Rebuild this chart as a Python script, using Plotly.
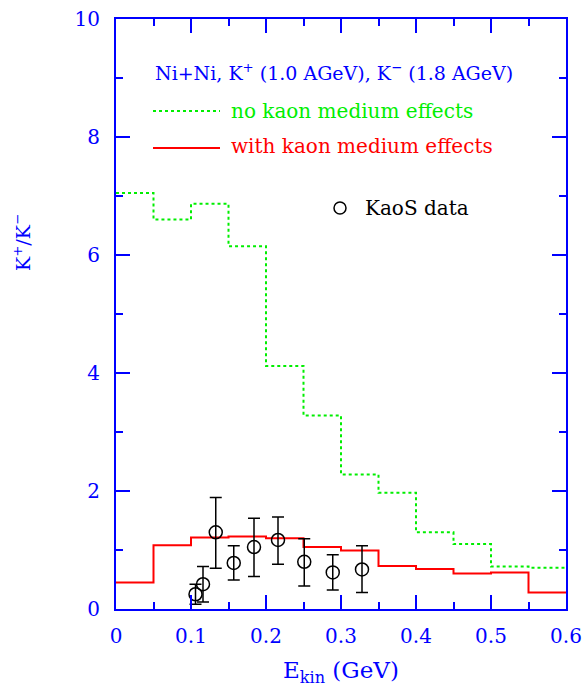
import plotly.graph_objects as go

# ---- data ----
bin_edges = [0.0, 0.05, 0.10, 0.15, 0.20, 0.25, 0.30, 0.35, 0.40, 0.45, 0.50, 0.55, 0.60]
no_medium = [7.05, 6.60, 6.87, 6.15, 4.12, 3.28, 2.28, 1.97, 1.30, 1.10, 0.72, 0.70]
with_medium = [0.45, 1.08, 1.21, 1.23, 1.20, 1.05, 0.99, 0.73, 0.68, 0.60, 0.62, 0.28]

kaos_x = [0.106, 0.116, 0.133, 0.157, 0.184, 0.216, 0.251, 0.289, 0.328]
kaos_y = [0.25, 0.42, 1.30, 0.78, 1.05, 1.17, 0.80, 0.62, 0.67]
kaos_hi = [0.42, 0.72, 1.89, 1.07, 1.54, 1.56, 1.19, 0.92, 1.07]
kaos_lo = [0.08, 0.12, 0.69, 0.49, 0.55, 0.76, 0.39, 0.32, 0.28]

x_ticks = [0, 0.1, 0.2, 0.3, 0.4, 0.5, 0.6]
x_ticklabels = ["0", "0.1", "0.2", "0.3", "0.4", "0.5", "0.6"]
y_ticks = [0, 2, 4, 6, 8, 10]

BLUE = "#0000ff"
GREEN = "#00ee00"
RED = "#ff0000"
FONT = "DejaVu Serif"

fig = go.Figure()

fig.add_trace(go.Scatter(
    x=bin_edges, y=no_medium + [no_medium[-1]], mode="lines", line_shape="hv",
    line=dict(color=GREEN, width=2, dash="dot"), showlegend=False))
fig.add_trace(go.Scatter(
    x=bin_edges, y=with_medium + [with_medium[-1]], mode="lines", line_shape="hv",
    line=dict(color=RED, width=2), showlegend=False))

err_plus = [h - y for h, y in zip(kaos_hi, kaos_y)]
err_minus = [y - l for l, y in zip(kaos_lo, kaos_y)]
fig.add_trace(go.Scatter(
    x=kaos_x, y=kaos_y, mode="markers",
    marker=dict(symbol="circle-open", size=13, color="black", line=dict(width=1.5, color="black")),
    error_y=dict(type="data", symmetric=False, array=err_plus, arrayminus=err_minus,
                 color="black", thickness=1.5, width=6),
    showlegend=False))

W, H = 586, 687
L, R, T, B = 116, 20, 19, 78
pw, ph = W - L - R, H - T - B

def px(xp):
    return (xp - L) / pw

def py(yp):
    return (H - B - yp) / ph

annotations = [
    dict(text="Ni+Ni, K<sup>+</sup> (1.0 AGeV), K<sup>−</sup> (1.8 AGeV)", x=px(153), y=py(72),
         xanchor="left", yanchor="middle", font=dict(color=BLUE, size=19)),
    dict(text="no kaon medium effects", x=px(229), y=py(111),
         xanchor="left", yanchor="middle", font=dict(color=GREEN, size=20)),
    dict(text="with kaon medium effects", x=px(229), y=py(146),
         xanchor="left", yanchor="middle", font=dict(color=RED, size=20)),
    dict(text="KaoS data", x=px(363), y=py(208),
         xanchor="left", yanchor="middle", font=dict(color="black", size=20)),
    dict(text="E<sub>kin</sub> (GeV)", x=0.5, y=py(672),
         xanchor="center", yanchor="middle", font=dict(color=BLUE, size=23)),
    dict(text="K<sup>+</sup>/K<sup>−</sup>", x=px(22), y=py(243), textangle=-90,
         xanchor="center", yanchor="middle", font=dict(color=BLUE, size=19)),
]
for a in annotations:
    a.update(xref="paper", yref="paper", showarrow=False)

shapes = [
    dict(type="line", xref="paper", yref="paper", x0=px(153), x1=px(220), y0=py(111), y1=py(111),
         line=dict(color=GREEN, width=2, dash="dot")),
    dict(type="line", xref="paper", yref="paper", x0=px(153), x1=px(220), y0=py(148), y1=py(148),
         line=dict(color=RED, width=2)),
    dict(type="circle", xref="paper", yref="paper", xsizemode="pixel", ysizemode="pixel",
         xanchor=px(340), yanchor=py(208), x0=-6, x1=6, y0=-6, y1=6,
         line=dict(color="black", width=1.5)),
]

axis_common = dict(showgrid=False, zeroline=False, showline=True, linecolor=BLUE, linewidth=2,
                   mirror="allticks", ticks="inside", ticklen=14, tickwidth=1.5, tickcolor=BLUE,
                   tickfont=dict(color=BLUE, size=20, family=FONT), automargin=False)

fig.update_layout(
    width=W, height=H, margin=dict(l=L, r=R, t=T, b=B, autoexpand=False),
    paper_bgcolor="white", plot_bgcolor="white",
    font=dict(family=FONT),
    xaxis=dict(range=[0, 0.6], tickvals=x_ticks, ticktext=x_ticklabels,
               minor=dict(dtick=0.05, ticks="inside", ticklen=7, tickwidth=1.5, tickcolor=BLUE),
               ticklabelstandoff=8, **axis_common),
    yaxis=dict(range=[0, 10], tickvals=y_ticks,
               minor=dict(dtick=1, ticks="inside", ticklen=7, tickwidth=1.5, tickcolor=BLUE),
               ticklabelstandoff=10, **axis_common),
    annotations=annotations, shapes=shapes,
)

fig.write_html("out.html")
